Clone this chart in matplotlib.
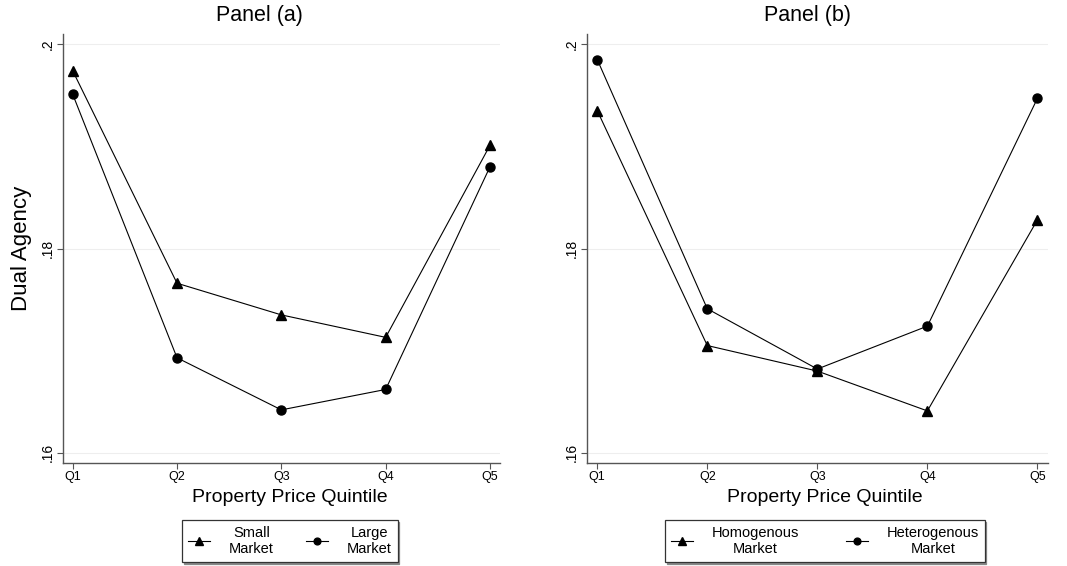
import matplotlib
matplotlib.use("Agg")
import matplotlib.pyplot as plt

plt.rcParams['font.family'] = ['Liberation Sans', 'DejaVu Sans']

quintiles = ['Q1', 'Q2', 'Q3', 'Q4', 'Q5']
small_market = [0.1974, 0.1766, 0.1735, 0.1713, 0.1901]
large_market = [0.1951, 0.1693, 0.1642, 0.1662, 0.1880]
homog_market = [0.1935, 0.1705, 0.1680, 0.1641, 0.1828]
heterog_market = [0.1985, 0.1741, 0.1682, 0.1724, 0.1947]

y_ticks = [0.16, 0.18, 0.2]
y_ticklabels = ['.16', '.18', '.2']

W, H = 1067, 566
fig = plt.figure(figsize=(W / 100, H / 100), dpi=100)
ax_a = fig.add_axes([63 / W, 103 / H, 437 / W, 429 / H])
ax_b = fig.add_axes([587 / W, 103 / H, 461 / W, 429 / H])

x = list(range(1, len(quintiles) + 1))
# axes, series, labels, title x, text center x (px), legend column spacing
panels = [
    (ax_a, small_market, large_market, 'Small\nMarket', 'Large\nMarket', 'Panel (a)', 259, 290, 2.2),
    (ax_b, homog_market, heterog_market, 'Homogenous\nMarket', 'Heterogenous\nMarket', 'Panel (b)', 807, 825, 3.2),
]

for ax, tri, circ, lab1, lab2, title, tx, cx, colsp in panels:
    ax.plot(x, tri, color='black', lw=0.8, marker='^', ms=7, label=lab1)
    ax.plot(x, circ, color='black', lw=0.8, marker='o', ms=6.5, label=lab2)
    ax.set_xlim(0.907, 5.096)
    ax.set_ylim(0.159, 0.201)
    ax.set_xticks(x)
    ax.set_xticklabels(quintiles, fontsize=9)
    ax.set_yticks(y_ticks)
    ax.set_yticklabels(y_ticklabels, fontsize=10, rotation=90, va='center')
    ax.grid(axis='y', color='#eeeeee', lw=0.8)
    ax.set_axisbelow(True)
    for s in ['top', 'right']:
        ax.spines[s].set_visible(False)
    for s in ['left', 'bottom']:
        ax.spines[s].set_color('#555555')
        ax.spines[s].set_linewidth(1.0)
    ax.tick_params(direction='out', length=4, width=0.8, color='#555555', pad=2)

    fig.text(tx / W, 1 - 15 / H, title, ha='center', va='center', fontsize=15.5)
    fig.text(cx / W, 1 - 498 / H, 'Property Price Quintile', ha='center', va='center', fontsize=14)

    leg = ax.legend(loc='upper center', bbox_to_anchor=(cx / W, 1 - 520 / H),
                    bbox_transform=fig.transFigure, ncol=2,
                    frameon=True, fancybox=False, edgecolor='#333333',
                    shadow={'ox': 1.2, 'oy': -1.2, 'color': '#888888', 'alpha': 1},
                    fontsize=10.5, handlelength=1.5, columnspacing=colsp,
                    handletextpad=1.3, borderpad=0.4, borderaxespad=0,
                    labelspacing=0.25, markerscale=0.75)
    leg.get_frame().set_linewidth(0.9)
    for t in leg.get_texts():
        t.set_multialignment('center')

ax_a.set_ylabel('Dual Agency', fontsize=16, labelpad=6)

fig.savefig('out.png', dpi=100)
